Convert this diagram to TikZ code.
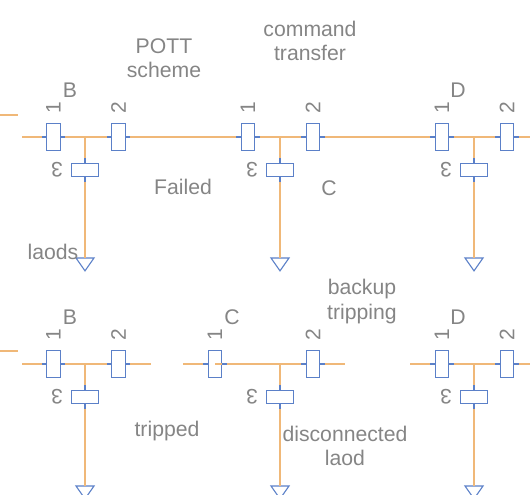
\documentclass[tikz,border=0pt]{standalone}
\usepackage{fontspec}
\setmainfont{Liberation Sans}
\usetikzlibrary{shapes.geometric}
\definecolor{wire}{HTML}{F0B878}
\definecolor{brk}{HTML}{5B80C8}
\definecolor{txt}{HTML}{858585}
\tikzset{
 wireline/.style={draw=wire,line width=1.3pt},
 stubline/.style={draw=brk,line width=1.1pt},
 vbrk/.style={draw=brk,line width=1.1pt,fill=none,minimum width=13.5pt,minimum height=26.5pt,inner sep=0pt,outer sep=0pt,rectangle},
 hbrk/.style={draw=brk,line width=1.1pt,fill=none,minimum width=26.5pt,minimum height=13.5pt,inner sep=0pt,outer sep=0pt,rectangle},
 lbl/.style={text=txt,font=\fontsize{21.2}{24.5}\selectfont,align=center,inner sep=0pt},
 num/.style={text=txt,font=\fontsize{21}{24}\selectfont,inner sep=0pt,rotate=90},
 numtre/.style={text=txt,font=\fontsize{21}{24}\selectfont,inner sep=0pt,rotate=180},
 loadtri/.style={draw=brk,line width=1.1pt,isosceles triangle,isosceles triangle apex angle=70,shape border rotate=-90,minimum width=18pt,minimum height=12pt,inner sep=0pt,outer sep=0pt},
}
\newcommand{\cell}[5]{% prefix, xa(breaker1), xj(junction), xb(breaker2), ybus
 \node[vbrk] (#1a) at (#2,#5) {};
 \node[vbrk] (#1b) at (#4,#5) {};
 \node[hbrk] (#1c) at (#3,#5+33) {};
 \coordinate (#1j) at (#3,#5);
 \node[num] (#1na) at (#2,#5-29) {1};
 \node[num] (#1nb) at (#4,#5-29) {2};
 \node[numtre] (#1nc) at (#3-28,#5+33) {3};
}
\newcommand{\stubs}[1]{%
 \draw[stubline] ([xshift=-5pt]#1a.west) -- (#1a.west);
 \draw[stubline] (#1a.east) -- ([xshift=5pt]#1a.east);
 \draw[stubline] ([xshift=-5pt]#1b.west) -- (#1b.west);
 \draw[stubline] (#1b.east) -- ([xshift=5pt]#1b.east);
 \draw[stubline] (#1c.north) -- ([yshift=5pt]#1c.north);
 \draw[stubline] (#1c.south) -- ([yshift=-5pt]#1c.south);
}
\begin{document}
\begin{tikzpicture}[x=1pt,y=-1pt]
\useasboundingbox (0,0) rectangle (530,495);
% stray feeders
\coordinate (fa1) at (0,115); \coordinate (fa2) at (18,115);
\coordinate (fb1) at (0,351); \coordinate (fb2) at (18,351);
\draw[wireline] (fa1) -- (fa2);
\draw[wireline] (fb1) -- (fb2);
% top row
\cell{p}{53.5}{85}{118.5}{137}
\cell{q}{248}{280}{313}{137}
\cell{r}{442}{474}{507}{137}
% bottom row
\cell{s}{53.5}{85}{118.5}{364}
\cell{t}{215}{280}{313}{364}
\cell{u}{442}{474}{507}{364}
% load triangles
\node[loadtri,anchor=north] (ptri) at (85,258) {};
\node[loadtri,anchor=north] (qtri) at (280,258) {};
\node[loadtri,anchor=north] (rtri) at (474,258) {};
\node[loadtri,anchor=north] (stri) at (85,486) {};
\node[loadtri,anchor=north] (ttri) at (280,486) {};
\node[loadtri,anchor=north] (utri) at (474,486) {};
% free bus ends
\coordinate (pl) at (22,137); \coordinate (rr) at (530,137);
\coordinate (sl) at (22,364); \coordinate (sr) at (151,364);
\coordinate (tl) at (183,364); \coordinate (tr) at (345,364);
\coordinate (ul) at (410,364); \coordinate (ur) at (530,364);
\draw[wireline] (pl) -- ([xshift=-5pt]pa.west);
\draw[wireline] ([xshift=5pt]pa.east) -- ([xshift=-5pt]pb.west);
\draw[wireline] ([xshift=5pt]pb.east) -- ([xshift=-5pt]qa.west);
\draw[wireline] ([xshift=5pt]qa.east) -- ([xshift=-5pt]qb.west);
\draw[wireline] ([xshift=5pt]qb.east) -- ([xshift=-5pt]ra.west);
\draw[wireline] ([xshift=5pt]ra.east) -- ([xshift=-5pt]rb.west);
\draw[wireline] ([xshift=5pt]rb.east) -- (rr);
\draw[wireline] (sl) -- ([xshift=-5pt]sa.west);
\draw[wireline] ([xshift=5pt]sa.east) -- ([xshift=-5pt]sb.west);
\draw[wireline] ([xshift=5pt]sb.east) -- (sr);
\draw[wireline] (tl) -- ([xshift=-5pt]ta.west);
\draw[wireline] (ta.center) -- ([xshift=-5pt]tb.west);
\draw[wireline] ([xshift=5pt]tb.east) -- (tr);
\draw[wireline] (ul) -- ([xshift=-5pt]ua.west);
\draw[wireline] ([xshift=5pt]ua.east) -- ([xshift=-5pt]ub.west);
\draw[wireline] ([xshift=5pt]ub.east) -- (ur);
\draw[wireline] (pj) -- ([yshift=5pt]pc.north);
\draw[wireline] ([yshift=-5pt]pc.south) -- (ptri.north);
\draw[wireline] (qj) -- ([yshift=5pt]qc.north);
\draw[wireline] ([yshift=-5pt]qc.south) -- (qtri.north);
\draw[wireline] (rj) -- ([yshift=5pt]rc.north);
\draw[wireline] ([yshift=-5pt]rc.south) -- (rtri.north);
\draw[wireline] (sj) -- ([yshift=5pt]sc.north);
\draw[wireline] ([yshift=-5pt]sc.south) -- (stri.north);
\draw[wireline] (tj) -- ([yshift=5pt]tc.north);
\draw[wireline] ([yshift=-5pt]tc.south) -- (ttri.north);
\draw[wireline] (uj) -- ([yshift=5pt]uc.north);
\draw[wireline] ([yshift=-5pt]uc.south) -- (utri.north);
\stubs{p}\stubs{q}\stubs{r}\stubs{s}\stubs{t}\stubs{u}
% labels
\node[lbl] (tB) at (70,90) {B};
\node[lbl] (tD) at (458,90) {D};
\node[lbl] (tB2) at (70,317) {B};
\node[lbl] (tC2) at (232,317) {C};
\node[lbl] (tD2) at (458,317) {D};
\node[lbl] (tC) at (329,188) {C};
\node[lbl] (tpott) at (164,58) {POTT\\scheme};
\node[lbl] (tcmd) at (310,41) {command\\transfer};
\node[lbl] (tfail) at (183,187) {Failed};
\node[lbl] (tlaods) at (53,252) {laods};
\node[lbl] (tback) at (362,301.5) {backup\\tripping};
\node[lbl] (ttrip) at (167,431) {tripped};
\node[lbl] (tdisc) at (345,446) {disconnected\\laod};
\end{tikzpicture}
\end{document}
